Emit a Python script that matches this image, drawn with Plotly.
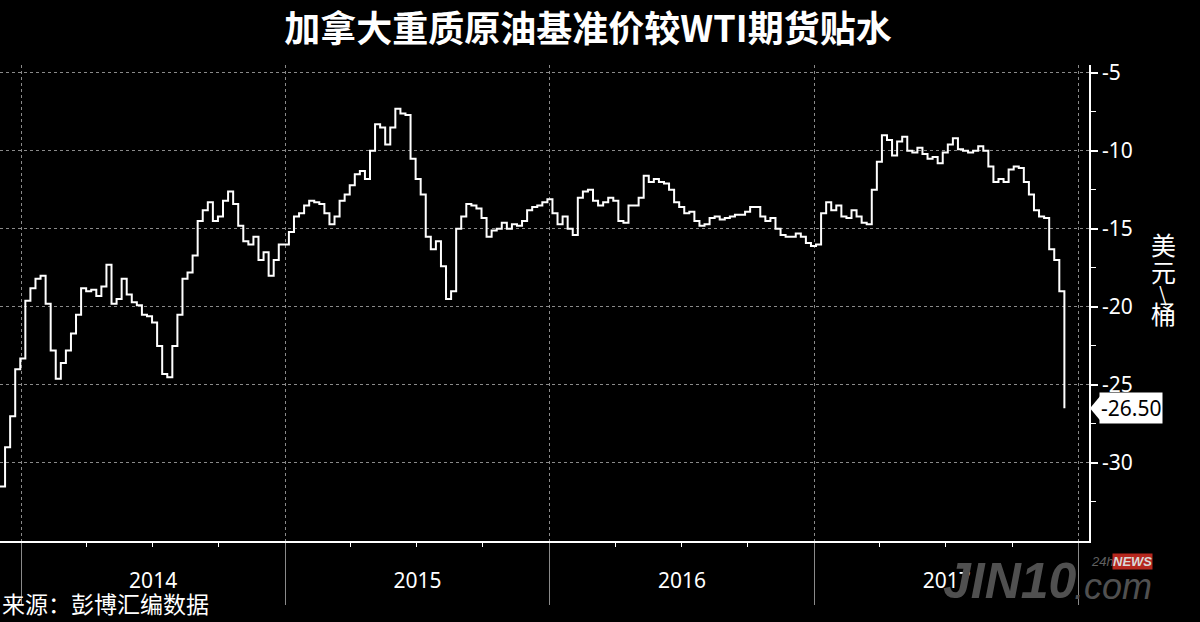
import pandas as pd
import plotly.graph_objects as go

# ---- data (weekly readings, USD/bbl) ----
start_date = "2013-12-03"
discount = [
    -31.5, -29.0, -27.0, -24.0, -23.3, -19.6, -18.8, -18.2, -18.0, -19.8,
    -22.8, -24.6, -23.6, -22.8, -21.7, -20.5, -18.8, -19.0, -18.9, -19.3,
    -18.7, -17.3, -19.8, -19.5, -18.2, -19.2, -19.7, -19.9, -20.5, -20.6,
    -21.0, -22.5, -24.3, -24.5, -22.5, -20.5, -18.2, -17.8, -16.7, -14.5,
    -13.8, -13.3, -14.5, -14.2, -13.2, -12.6, -13.4, -14.8, -15.8, -16.0,
    -15.5, -17.0, -16.5, -18.0, -17.0, -16.0, -16.0, -15.2, -14.2, -14.0,
    -13.5, -13.2, -13.3, -13.4, -14.0, -14.7, -14.2, -13.2, -12.8, -12.2,
    -11.5, -11.3, -11.8, -10.0, -8.3, -8.5, -9.6, -8.5, -7.3, -7.6,
    -7.7, -10.5, -11.8, -12.8, -15.5, -16.3, -15.8, -17.4, -19.5, -19.0,
    -15.0, -14.2, -13.4, -13.5, -13.7, -14.3, -15.5, -15.1, -15.0, -14.6,
    -15.0, -14.7, -14.8, -14.5, -13.8, -13.6, -13.5, -13.3, -13.1, -14.0,
    -14.7, -14.2, -15.0, -15.4, -13.0, -12.6, -12.5, -13.2, -13.5, -13.3,
    -13.0, -13.2, -14.5, -14.6, -13.5, -13.5, -13.0, -11.6, -12.0, -11.8,
    -12.0, -12.1, -12.5, -13.3, -13.6, -14.0, -13.9, -14.5, -14.8, -14.7,
    -14.3, -14.2, -14.4, -14.3, -14.2, -14.1, -14.1, -13.9, -13.6, -13.6,
    -14.2, -14.5, -14.3, -15.0, -15.4, -15.5, -15.5, -15.3, -15.5, -15.9,
    -16.1, -16.0, -14.0, -13.3, -13.8, -13.5, -14.2, -14.3, -13.8, -14.2,
    -14.6, -14.7, -12.5, -10.7, -9.0, -9.3, -10.3, -9.4, -9.1, -10.0,
    -10.1, -9.8, -10.2, -10.5, -10.4, -10.8, -10.1, -9.6, -9.2, -9.9,
    -10.0, -10.1, -10.0, -9.7, -10.0, -11.0, -12.0, -11.8, -12.0, -11.2,
    -11.0, -11.1, -12.0, -12.8, -13.8, -14.2, -14.3, -16.3, -17.0, -19.0,
    -26.5,
]
dates = pd.date_range(start_date, periods=len(discount), freq="7D")

y_ticks = [-5, -10, -15, -20, -25, -30]
y_tick_labels = ["-5", "-10", "-15", "-20", "-25", "-30"]
y_minor_ticks = [-7.5, -12.5, -17.5, -22.5, -27.5, -32.5]
last_value = discount[-1]
last_label = f"-{abs(last_value):.2f}"

title_text = "加拿大重质原油基准价较WTI期货贴水"
source_text = "来源：彭博汇编数据"
unit_chars = ["美", "元", "\\", "桶"]

fig = go.Figure()
fig.add_trace(go.Scatter(
    x=dates, y=discount, mode="lines",
    line=dict(color="white", width=2, shape="hv"),
    showlegend=False, hoverinfo="skip",
))

grid_col = "#8a8a8a"
fig.update_layout(
    width=1200, height=622,
    paper_bgcolor="black", plot_bgcolor="black",
    margin=dict(l=0, r=111, t=65, b=81),
    title=dict(text=f"<b>{title_text}</b>", x=0.49, xanchor="center",
               y=0.952, yanchor="middle",
               font=dict(family="Noto Sans CJK SC", size=36, color="white")),
    xaxis=dict(
        type="date", range=["2013-12-03", "2018-01-15"],
        tick0="2014-01-01", dtick="M12", tickformat="%Y",
        ticklabelmode="period",
        ticks="outside", ticklen=62, tickwidth=1, tickcolor=grid_col,
        ticklabelstandoff=-42,
        tickfont=dict(family="Noto Sans", size=21, color="white"),
        showgrid=True, gridcolor=grid_col, griddash="dot", gridwidth=1,
        showline=True, linecolor="white", linewidth=1.5,
        zeroline=False,
        minor=dict(dtick="M3", tick0="2014-01-01", ticks="outside", ticklen=4,
                   tickcolor="white", showgrid=False),
    ),
    yaxis=dict(
        side="right", range=[-35, -4.5],
        tickmode="array", tickvals=y_ticks, ticktext=y_tick_labels,
        ticks="outside", ticklen=7, tickwidth=2, tickcolor="white",
        tickfont=dict(family="Noto Sans", size=21, color="white"),
        showgrid=True, gridcolor=grid_col, griddash="dot", gridwidth=1,
        showline=True, linecolor="white", linewidth=1.5,
        zeroline=False,
        minor=dict(tickmode="array", tickvals=y_minor_ticks, ticks="outside",
                   ticklen=5, tickwidth=1, tickcolor="white", showgrid=False),
    ),
)

# unit label (vertical)
unit_y = [0.624, 0.567, 0.521, 0.478]
unit_sizes = [25, 25, 20, 25]
for ch, yy, sz in zip(unit_chars, unit_y, unit_sizes):
    fig.add_annotation(xref="paper", yref="paper", x=1.068, y=yy,
                       text=ch, showarrow=False, xanchor="center", yanchor="middle",
                       font=dict(family="Noto Sans CJK SC", size=sz, color="white"))

# last value tag
fig.add_annotation(xref="paper", yref="y", x=1, y=last_value, xanchor="left",
                   xshift=10, yanchor="middle", text=last_label, showarrow=False,
                   bgcolor="white", borderpad=1,
                   font=dict(family="Noto Sans", size=21, color="black"))
fig.add_shape(type="path", xref="paper", yref="y", xsizemode="pixel",
              ysizemode="pixel", xanchor=1, yanchor=last_value,
              path="M 1 0 L 11 12 L 11 -12 Z",
              fillcolor="white", line=dict(width=0))

# source
fig.add_annotation(xref="paper", yref="paper", x=0, y=-0.13, xanchor="left",
                   yanchor="middle", text=source_text, showarrow=False,
                   font=dict(family="Noto Sans CJK SC", size=23, color="white"))

# watermark
fig.add_annotation(xref="paper", yref="paper", x=0.927, y=-0.085, text="<b><i>JIN10</i></b>",
                   showarrow=False, xanchor="center", yanchor="middle",
                   font=dict(family="Liberation Sans", size=50, color="#505050"))
fig.add_annotation(xref="paper", yref="paper", x=1.022, y=-0.095, text="<i>.com</i>",
                   showarrow=False, xanchor="center", yanchor="middle",
                   font=dict(family="Liberation Sans", size=36, color="#505050"))
fig.add_annotation(xref="paper", yref="paper", x=1.012, y=-0.044, text="<i>24h</i>",
                   showarrow=False, xanchor="center", yanchor="middle",
                   font=dict(family="Liberation Sans", size=13, color="#606060"))
fig.add_annotation(xref="paper", yref="paper", x=1.040, y=-0.044, text="<b><i>NEWS</i></b>",
                   showarrow=False, xanchor="center", yanchor="middle", bgcolor="#b5271e",
                   borderpad=0,
                   font=dict(family="Liberation Sans", size=13, color="#d9d9d9"))

fig.write_html("out.html", config={"displayModeBar": False},
               post_script="document.body.style.margin='0';document.body.style.overflow='hidden';")
